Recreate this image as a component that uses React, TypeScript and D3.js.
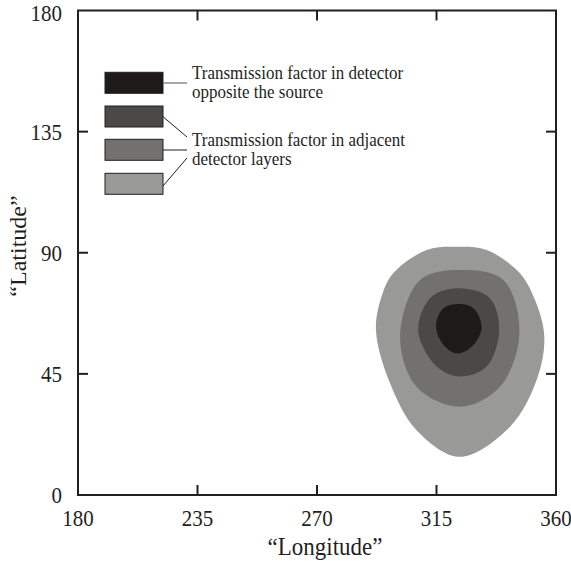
import React from 'react';
import * as d3 from 'd3';

// axis ticks (the original figure labels the 225 tick as "235")
const lonTicks = [180, 225, 270, 315, 360];
const lonLabels = ['180', '235', '270', '315', '360'];
const latTicks = [0, 45, 90, 135, 180];

// contour outlines, [longitude, latitude]
const outerLevel: [number, number][] = [
  [322.6, 92.2], [333.9, 91.0], [346.4, 82.4], [352.1, 72.4], [355.6, 58.8],
  [352.7, 42.7], [342.7, 25.4], [323.8, 14.2], [307.5, 24.1], [297.5, 41.5],
  [292.2, 61.3], [294.5, 74.3], [298.7, 82.4], [311.3, 91.0],
];
const secondLevel: [number, number][] = [
  [323.8, 83.6], [340.2, 79.9], [346.2, 60.1], [338.9, 40.2],
  [323.8, 32.8], [307.5, 40.2], [301.3, 58.8], [308.8, 79.9],
];
const thirdLevel: [number, number][] = [
  [323.8, 76.8], [335.1, 73.1], [338.6, 61.3], [333.9, 47.7],
  [323.8, 44.0], [315.1, 47.7], [308.1, 61.3], [313.2, 73.7],
];
const coreLevel: [number, number][] = [
  [323.8, 71.0], [328.9, 69.4], [332.0, 62.5], [328.9, 55.7],
  [323.2, 52.6], [318.2, 55.1], [314.8, 62.5], [317.6, 69.4],
];

const levels = [outerLevel, secondLevel, thirdLevel, coreLevel];
const levelColors = ['#999998', '#737170', '#4c4847', '#1f1a1a'];
const legendColors = ['#1f1a1a', '#4c4847', '#737170', '#999998'];
const legendText1 = ['Transmission factor in detector', 'opposite the source'];
const legendText2 = ['Transmission factor in adjacent', 'detector layers'];

const ink = '#231f20';
const serif = '"Liberation Serif", "Times New Roman", serif';

export default function App() {
  const width = 571;
  const height = 562;
  const left = 78, right = 556, top = 10.5, bottom = 495;

  const x = d3.scaleLinear().domain([180, 360]).range([left, right]);
  const y = d3.scaleLinear().domain([0, 180]).range([bottom, top]);

  const shape = d3.line<[number, number]>()
    .x(d => x(d[0]))
    .y(d => y(d[1]))
    .curve(d3.curveCatmullRomClosed.alpha(0.5));

  const tickLen = 10;
  const stretch = 'scale(1,1.12)';

  // legend layout
  const boxX = 105, boxW = 58, boxH = 21;
  const boxY = [72.3, 106, 139.3, 173.3];
  const textX = 192;
  const lineGap = 19;

  return (
    <svg width={width} height={height} style={{ position: 'absolute', left: 0, top: 0, background: '#fff' }}
      fontFamily={serif}>
      <rect width={width} height={height} fill="#fff" />

      {levels.map((pts, i) => (
        <path key={i} d={shape(pts) || ''} fill={levelColors[i]} />
      ))}

      {/* frame */}
      <rect x={left} y={top} width={right - left} height={bottom - top} fill="none" stroke={ink} strokeWidth={2} />

      {/* inward ticks */}
      {lonTicks.slice(1, -1).map(t => (
        <g key={'xt' + t} stroke={ink} strokeWidth={2}>
          <line x1={x(t)} x2={x(t)} y1={bottom} y2={bottom - tickLen} />
          <line x1={x(t)} x2={x(t)} y1={top} y2={top + tickLen} />
        </g>
      ))}
      {latTicks.slice(1, -1).map(t => (
        <g key={'yt' + t} stroke={ink} strokeWidth={2}>
          <line x1={left} x2={left + tickLen} y1={y(t)} y2={y(t)} />
          <line x1={right} x2={right - tickLen} y1={y(t)} y2={y(t)} />
        </g>
      ))}

      {/* tick labels */}
      {lonTicks.map((t, i) => (
        <text key={'xl' + t} transform={`translate(${x(t)},526) ${stretch}`} textAnchor="middle"
          fontSize={21} fill={ink}>{lonLabels[i]}</text>
      ))}
      {latTicks.map(t => (
        <text key={'yl' + t} transform={`translate(62,${Math.max(y(t) + 8, 21)}) ${stretch}`} textAnchor="end"
          fontSize={21} fill={ink}>{t}</text>
      ))}

      {/* axis titles */}
      <text transform={`translate(325,555) ${stretch}`} textAnchor="middle" fontSize={23} fill={ink}>
        {'\u201cLongitude\u201d'}
      </text>
      <text transform="translate(26,246) rotate(-90)" textAnchor="middle" fontSize={24} fill={ink}>
        {'\u201cLatitude\u201d'}
      </text>

      {/* legend */}
      {legendColors.map((c, i) => (
        <rect key={'lb' + i} x={boxX} y={boxY[i]} width={boxW} height={boxH} fill={c} stroke={ink} strokeWidth={1} />
      ))}
      <line x1={boxX + boxW} y1={83} x2={187} y2={83} stroke="#6d6a6a" strokeWidth={1.2} />
      <line x1={boxX + boxW} y1={116.7} x2={187} y2={137} stroke={ink} strokeWidth={1} />
      <line x1={boxX + boxW} y1={150} x2={187} y2={150} stroke={ink} strokeWidth={1} />
      <line x1={boxX + boxW} y1={186} x2={187} y2={158} stroke={ink} strokeWidth={1} />
      {legendText1.map((s, i) => (
        <text key={'t1' + i} transform={`translate(${textX},${79 + i * lineGap}) ${stretch}`}
          fontSize={17} fill={ink}>{s}</text>
      ))}
      {legendText2.map((s, i) => (
        <text key={'t2' + i} transform={`translate(${textX},${146 + i * lineGap}) ${stretch}`}
          fontSize={17} fill={ink}>{s}</text>
      ))}
    </svg>
  );
}
